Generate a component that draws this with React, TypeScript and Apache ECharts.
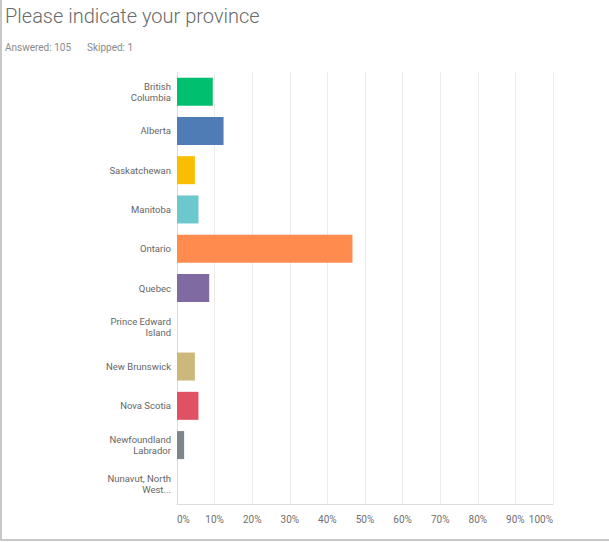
import React, { useEffect, useRef } from "react";
import * as echarts from "echarts";

const categories = [
  "British\nColumbia",
  "Alberta",
  "Saskatchewan",
  "Manitoba",
  "Ontario",
  "Quebec",
  "Prince Edward\nIsland",
  "New Brunswick",
  "Nova Scotia",
  "Newfoundland\nLabrador",
  "Nunavut, North\nWest...",
];
const percents = [9.52, 12.38, 4.76, 5.71, 46.67, 8.57, 0, 4.76, 5.71, 1.9, 0];
const barColors = [
  "#00BF6F",
  "#507CB6",
  "#F9BE00",
  "#6BC8CD",
  "#FF8B4F",
  "#7F6AA1",
  "#D25F90",
  "#CBB87A",
  "#E05263",
  "#7E868C",
  "#A0A0A0",
];
const xTicks = [0, 10, 20, 30, 40, 50, 60, 70, 80, 90, 100];
const titleText = "Please indicate your province";
const answeredText = "Answered: 105";
const skippedText = "Skipped: 1";

export default function App() {
  const ref = useRef<HTMLDivElement>(null);
  useEffect(() => {
    if (!ref.current) return;
    const chart = echarts.init(ref.current, null, { renderer: "svg" });
    chart.setOption({
      animation: false,
      backgroundColor: "#ffffff",
      graphic: [
        {
          type: "text",
          left: 5,
          top: 6,
          style: {
            text: titleText,
            fontSize: 20,
            fontFamily: "Roboto",
            fontWeight: 300,
            fill: "#6a6a6a",
          },
        },
        {
          type: "text",
          left: 5,
          top: 42,
          style: {
            text: answeredText,
            fontSize: 10,
            fontFamily: "Roboto",
            fill: "#8a8a8a",
          },
        },
        {
          type: "text",
          left: 87,
          top: 42,
          style: {
            text: skippedText,
            fontSize: 10,
            fontFamily: "Roboto",
            fill: "#8a8a8a",
          },
        },
        {
          type: "line",
          shape: { x1: 1, y1: 0, x2: 1, y2: 540 },
          style: { stroke: "#c8c8c8", lineWidth: 2 },
        },
        {
          type: "line",
          shape: { x1: 0, y1: 540, x2: 609, y2: 540 },
          style: { stroke: "#c8c8c8", lineWidth: 2 },
        },
      ],
      grid: { left: 177, right: 56, top: 72, bottom: 38 },
      xAxis: {
        type: "value",
        min: 0,
        max: 100,
        interval: 10,
        axisLine: { show: true, lineStyle: { color: "#dcdcdc" } },
        axisTick: { show: false },
        splitLine: { show: true, lineStyle: { color: "#ececec" } },
        axisLabel: {
          formatter: (v: number) => (xTicks.includes(v) ? v + "%" : ""),
          fontSize: 10,
          fontFamily: "Roboto",
          color: "#707070",
          margin: 10,
          alignMinLabel: "left",
          alignMaxLabel: "right",
        },
      },
      yAxis: {
        type: "category",
        data: categories,
        inverse: true,
        axisLine: { show: true, lineStyle: { color: "#dcdcdc" } },
        axisTick: { show: false },
        axisLabel: {
          fontSize: 9.5,
          lineHeight: 11,
          fontFamily: "Roboto",
          color: "#666666",
          margin: 6,
          align: "right",
        },
      },
      series: [
        {
          type: "bar",
          data: percents.map((v, i) => ({
            value: v,
            itemStyle: { color: barColors[i] },
          })),
          barWidth: 28,
        },
      ],
    });
    return () => chart.dispose();
  }, []);
  return (
    <div style={{ position: "fixed", left: 0, top: 0, width: 609, height: 542 }}>
      <div ref={ref} style={{ width: 609, height: 542 }} />
    </div>
  );
}
